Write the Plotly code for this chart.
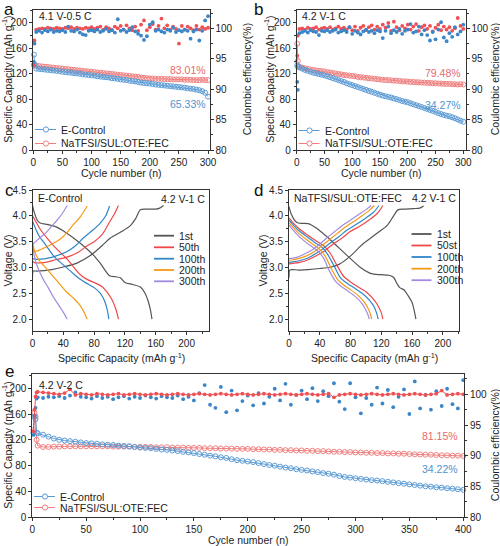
import plotly.graph_objects as go

# ---------------- data ----------------
CYC_AB = [1, 2] + list(range(5, 301, 5))
CYC_E = [1, 2, 3, 4, 5] + list(range(10, 401, 5))

A_CAP_CTRL = [150, 135, 128, 127.5, 127, 126.5, 126, 125.5, 125, 124.5, 124, 123,
              122.5, 122, 121.5, 121, 120.5, 120, 119, 118.5, 118, 117.5,
              117, 116, 115.5, 115, 114.5, 114, 113, 112.5, 112, 111,
              110.5, 110, 109, 108.5, 108, 107, 106, 105.5, 105, 104.5,
              104, 103, 102.5, 102, 101.5, 101, 100.5, 100, 99.5, 99,
              98.5, 98, 97, 96.5, 96, 95, 94, 92.5, 90, 84]
A_CAP_NA = [133.5, 133, 132.5, 132, 131.5, 131, 130.5, 130, 129.5, 129, 128.5, 128,
            127.5, 127, 126.5, 126, 125.5, 125, 124.5, 124, 123.5, 123,
            122.5, 122, 121.5, 121, 120.5, 120, 119.5, 119, 118.5, 118,
            117.5, 117, 116.5, 116, 115.5, 115, 114, 113.5, 113, 112.5,
            112.5, 112, 112, 112, 111.5, 111.5, 111.5, 111, 111, 111,
            111, 110.5, 110.5, 110.5, 110, 110, 110, 110.5, 110, 110]
A_CE_CTRL = [94.5, 97.5, 99.4, 99.6, 99.3, 99.7, 99.5, 99.8, 99.4, 99.6, 99.5, 99.7,
             99.4, 100.3, 99.6, 99.5, 99.8, 99.3, 99.0, 98.9, 99.6, 99.7,
             99.5, 99.8, 99.4, 99.6, 99.9, 99.5, 99.7, 99.3, 101.5, 99.6,
             99.8, 99.4, 99.7, 100.2, 99.5, 99.1, 98.8, 98.1, 98.7, 100.6,
             101.0, 99.6, 99.8, 99.5, 99.3, 99.8, 99.6, 100.1, 99.4, 99.7,
             99.5, 99.8, 99.6, 98.3, 99.5, 99.8, 98.0, 99.6, 101.3, 102.0]
A_CE_NA = [94.0, 98.0, 99.8, 99.9, 100.0, 99.9, 100.1, 100.0, 99.9, 100.1, 100.0, 99.9,
           100.1, 100.0, 100.2, 99.9, 100.1, 100.0, 99.9, 100.1, 100.0, 100.2,
           99.9, 100.1, 100.3, 99.8, 100.2, 100.0, 99.7, 100.3, 100.0, 100.4,
           99.8, 100.5, 100.0, 99.7, 100.3, 99.6, 100.6, 101.3, 99.7, 100.2,
           100.7, 99.8, 100.4, 101.6, 100.0, 100.5, 99.8, 100.3, 99.9, 97.5,
           100.4, 99.8, 100.3, 100.0, 99.7, 100.4, 99.8, 100.2, 99.9, 100.1]

B_CAP_CTRL = [133, 131, 130, 128, 126, 124.5, 123, 121.5, 120.5, 119.5, 118.5, 117.5,
              116, 114.5, 113, 111.5, 110, 108.5, 107, 105, 103.5, 102,
              100.5, 99, 97.5, 96, 94.5, 93, 91.5, 90, 88.5, 87,
              85.5, 84.5, 83.5, 82.5, 81, 80, 78.5, 77, 76, 75,
              73.5, 72, 70.5, 69, 67.5, 66, 64.5, 63, 61.5, 60,
              58, 56.5, 55, 54, 53, 51.5, 50, 48, 46, 44.5]
B_CAP_NA = [167, 140, 131, 129.5, 128.5, 127.5, 126.5, 126, 125, 124.5, 124, 123.5,
            122.5, 122, 121, 120.5, 119.5, 119, 118, 117.5, 117, 116.5,
            116, 115, 114.5, 114, 113.5, 113, 112.5, 112, 111.5, 111,
            110.5, 110, 110, 109.5, 109, 109, 108.5, 108, 108, 107.5,
            107, 107, 106.5, 106.5, 106, 106, 105.5, 105.5, 105, 105,
            104.5, 104.5, 104, 104, 104, 103.5, 103.5, 103, 103.5, 103]
B_CE_CTRL = [91.2, 89.9, 99.2, 99.4, 99.6, 99.3, 99.7, 99.5, 99.4, 98.9, 99.6, 99.5,
             99.7, 99.4, 99.6, 99.8, 99.3, 99.5, 99.7, 99.4, 100.2, 99.1,
             99.6, 99.3, 99.0, 99.5, 99.8, 99.4, 99.6, 99.2, 99.7, 99.5,
             98.4, 99.6, 100.3, 99.2, 99.7, 99.4, 99.9, 99.1, 99.6, 99.8,
             100.7, 99.3, 99.5, 100.3, 99.0, 99.7, 98.9, 98.0, 99.4, 98.2,
             99.8, 101.0, 98.5, 97.9, 99.2, 98.6, 100.2, 99.0, 99.5, 100.6]
B_CE_NA = [95.5, 98.8, 99.9, 100.0, 99.8, 100.1, 99.9, 100.0, 100.2, 99.8, 100.0, 100.1,
           99.9, 100.2, 99.8, 100.0, 100.3, 99.9, 100.1, 99.8, 100.2, 99.7,
           100.3, 99.6, 100.1, 100.4, 99.7, 100.2, 100.5, 99.8, 100.3, 99.9,
           100.6, 100.1, 100.9, 99.6, 101.1, 100.2, 99.7, 100.4, 100.0, 100.6,
           99.8, 100.3, 100.7, 99.6, 100.2, 100.5, 99.9, 100.4, 99.5, 100.1,
           100.6, 99.7, 100.3, 99.8, 100.2, 99.6, 100.0, 101.7, 100.4, 99.9]

E_CAP_CTRL = [131, 156, 152, 131, 130,
              128, 125, 122, 120, 119, 118, 117, 116, 115,
              114.5, 114, 113, 112.5, 112, 111, 110.5, 110, 109, 108,
              107.5, 107, 106, 105, 104.5, 103.5, 102.5, 101.5, 100.5, 99.5,
              98, 97, 95.5, 94.5, 93, 92, 90, 88.5, 87.5, 86.5,
              85.5, 84, 82.5, 81, 80, 78.5, 77, 76, 74.5, 73.5,
              72.5, 71, 70, 68.5, 67.5, 66, 64, 62.5, 61.5, 60.5,
              59.5, 58.5, 57.5, 57, 56, 55, 54, 53, 52, 51,
              50, 49, 48, 47.5, 46.5, 46, 45, 44.5, 43.5, 42.5]
E_CAP_NA = [135, 162, 156, 120, 111,
            109, 109, 109.5, 109.5, 110, 110, 110, 110, 110,
            110, 110, 110, 110, 109.5, 109.5, 109.5, 109.5, 109, 109,
            109, 109, 108.5, 108.5, 108.5, 108, 108, 108, 107.5, 107.5,
            107.5, 107, 107, 107, 106.5, 106.5, 106.5, 106, 106, 106,
            105.5, 105.5, 105, 105, 104.5, 104.5, 104, 104, 103.5, 103.5,
            103, 103, 102.5, 102.5, 102, 101.5, 101.5, 101, 101, 100.5,
            100.5, 100, 100, 99.5, 99.5, 99, 99, 98.5, 98.5, 98,
            97.5, 97.5, 97, 97, 96.5, 96, 96, 95.5, 95.5, 95]
E_CE_CTRL = [93.4, 96.5, 97.8, 99.3, 99.5,
             99.4, 99.6, 99.5, 99.7, 99.4, 99.8, 100.3, 99.6, 99.5,
             99.3, 99.7, 99.4, 99.6, 99.2, 99.5, 99.7, 99.3, 99.6, 99.4,
             99.8, 99.5, 99.3, 99.7, 99.5, 99.4, 99.8, 99.2, 99.6, 99.0,
             100.2, 101.5, 98.3, 97.8, 101.2, 97.1, 100.6, 97.4, 98.9, 99.8,
             98.2, 100.2, 98.5, 99.6, 100.9, 99.0, 101.7, 98.3, 99.9, 100.6,
             99.2, 101.0, 98.9, 100.5, 99.7, 101.8, 98.8, 97.6, 101.8, 99.5,
             96.9, 99.4, 98.3, 101.1, 98.5, 100.7, 97.9, 99.6, 100.8, 96.8,
             102.1, 97.7, 99.9, 97.5, 100.5, 98.1, 100.9, 98.4, 97.7, 102.3]
E_CE_NA = [94.0, 97.5, 99.6, 100.3, 100.4,
           100.3, 100.2, 100.1, 100.0, 100.2, 100.8, 99.9, 100.1, 100.0,
           99.9, 100.1, 100.0, 99.9, 100.0, 100.1, 99.9, 100.0, 100.1, 100.0,
           99.9, 100.0, 100.1, 100.0, 99.9, 100.0, 100.1, 100.0, 99.9, 100.0,
           100.1, 100.0, 99.9, 100.0, 100.1, 100.0, 99.9, 100.0, 100.1, 100.0,
           99.9, 100.0, 100.1, 100.0, 99.9, 100.0, 100.1, 100.0, 99.9, 100.0,
           100.1, 100.0, 99.9, 100.0, 100.1, 99.5, 99.9, 100.0, 100.1, 100.0,
           99.9, 100.0, 100.1, 100.0, 99.9, 100.0, 100.1, 100.0, 99.9, 100.0,
           100.1, 100.0, 99.9, 100.0, 100.1, 100.6, 99.9, 100.0, 100.1, 100.0]

# voltage profiles, panel c (E-Control)
C_LABELS = ["1st", "50th", "100th", "200th", "300th"]
C_DIS_Q = [
    [0, 2, 6, 10, 20, 30, 45, 62, 79, 88, 100, 108, 114, 120, 130, 140, 146, 150, 153, 155],
    [0, 5, 10, 20, 30, 45, 62, 72, 80, 90, 97, 103, 108, 111.5],
    [0, 4, 9, 18, 28, 40, 50, 62, 72, 80, 88, 93, 97, 99],
    [0, 3, 8, 15, 23, 33, 44, 55, 62, 67, 71],
    [0, 2, 5, 9, 14, 20, 27, 34, 40, 45],
]
C_DIS_V = [
    [4.20, 4.08, 3.92, 3.86, 3.83, 3.79, 3.66, 3.47, 3.24, 3.08, 2.84, 2.82, 2.80, 2.71, 2.67, 2.62, 2.50, 2.35, 2.18, 2.00],
    [4.00, 3.87, 3.74, 3.55, 3.38, 3.16, 2.86, 2.76, 2.71, 2.63, 2.52, 2.38, 2.20, 2.00],
    [3.90, 3.75, 3.60, 3.42, 3.21, 3.05, 2.92, 2.77, 2.68, 2.61, 2.50, 2.37, 2.18, 2.00],
    [3.50, 3.30, 3.15, 3.03, 2.89, 2.72, 2.53, 2.38, 2.26, 2.13, 2.00],
    [3.48, 3.25, 3.08, 2.92, 2.77, 2.62, 2.43, 2.27, 2.13, 2.00],
]
C_CHG_Q = [
    [0, 1, 5, 15, 25, 40, 57, 75, 90, 101, 115, 127, 134, 140, 150, 160, 165, 170],
    [0, 3, 10, 20, 30, 45, 60, 70, 80, 90, 100, 106, 111.5],
    [0, 3, 10, 20, 30, 45, 55, 66, 78, 88, 95, 100],
    [0, 3, 8, 14, 25, 36, 45, 53, 62, 71],
    [0, 4, 10, 18, 25, 31, 38, 45],
]
C_CHG_V = [
    [2.80, 2.93, 2.93, 2.94, 2.96, 3.01, 3.08, 3.23, 3.42, 3.57, 3.69, 3.81, 3.95, 4.12, 4.13, 4.13, 4.15, 4.20],
    [3.12, 3.09, 3.09, 3.11, 3.15, 3.20, 3.30, 3.41, 3.50, 3.63, 3.88, 4.03, 4.20],
    [3.18, 3.16, 3.16, 3.18, 3.22, 3.31, 3.41, 3.57, 3.72, 3.86, 4.00, 4.19],
    [3.30, 3.31, 3.33, 3.37, 3.45, 3.55, 3.68, 3.83, 3.98, 4.19],
    [3.45, 3.50, 3.58, 3.68, 3.80, 3.90, 4.03, 4.20],
]

# voltage profiles, panel d (NaTFSI/SUL:OTE:FEC)
D_LABELS = ["1st", "50st", "100th", "200th", "300th"]
D_DIS_Q = [
    [0, 3, 8, 12, 25, 35, 49, 62, 75, 92, 105, 110, 120, 130, 136, 140, 144, 150, 155, 160, 163, 165],
    [0, 5, 14, 25, 36, 45, 53, 62, 71, 80, 88, 100, 110, 116, 120, 122],
    [0, 5, 13, 24, 34, 43, 50, 59, 67, 76, 84, 95, 105, 111, 114, 116],
    [0, 5, 12, 22, 32, 40, 47, 55, 63, 71, 79, 89, 98, 103, 106, 107.5],
    [0, 5, 11, 20, 30, 38, 45, 52, 60, 68, 76, 86, 95, 100, 103, 104.5],
]
D_DIS_V = [
    [4.18, 4.03, 3.90, 3.86, 3.85, 3.77, 3.60, 3.42, 3.24, 3.01, 2.89, 2.87, 2.86, 2.85, 2.81, 2.70, 2.61, 2.56, 2.45, 2.32, 2.15, 2.00],
    [3.96, 3.87, 3.74, 3.62, 3.51, 3.42, 3.29, 3.05, 2.83, 2.72, 2.64, 2.53, 2.38, 2.25, 2.12, 2.00],
    [3.92, 3.83, 3.71, 3.59, 3.48, 3.39, 3.26, 3.02, 2.80, 2.69, 2.61, 2.50, 2.36, 2.23, 2.11, 2.00],
    [3.87, 3.78, 3.67, 3.55, 3.44, 3.35, 3.22, 2.98, 2.77, 2.66, 2.58, 2.47, 2.33, 2.20, 2.09, 2.00],
    [3.82, 3.73, 3.63, 3.51, 3.40, 3.31, 3.18, 2.95, 2.74, 2.63, 2.55, 2.44, 2.30, 2.17, 2.07, 2.00],
]
D_CHG_Q = [
    [0, 1, 5, 12, 25, 40, 55, 65, 79, 90, 97, 108, 118, 128, 136, 142, 150, 162, 170, 175],
    [0, 5, 14, 25, 36, 47, 58, 70, 79, 92, 105, 115, 122],
    [0, 5, 13, 24, 34, 44, 55, 66, 75, 87, 100, 110, 117],
    [0, 5, 12, 22, 32, 41, 52, 62, 71, 82, 95, 104, 111],
    [0, 5, 11, 20, 30, 39, 49, 59, 68, 79, 91, 100, 107],
]
D_CHG_V = [
    [2.80, 2.95, 2.96, 2.95, 2.96, 2.98, 3.01, 3.06, 3.21, 3.37, 3.47, 3.59, 3.70, 3.82, 4.00, 4.12, 4.13, 4.14, 4.15, 4.19],
    [3.07, 3.08, 3.10, 3.15, 3.23, 3.33, 3.46, 3.58, 3.69, 3.80, 3.93, 4.05, 4.20],
    [3.10, 3.11, 3.13, 3.18, 3.26, 3.36, 3.49, 3.61, 3.72, 3.83, 3.96, 4.07, 4.20],
    [3.14, 3.15, 3.17, 3.22, 3.30, 3.40, 3.53, 3.65, 3.76, 3.87, 4.00, 4.10, 4.20],
    [3.17, 3.18, 3.20, 3.26, 3.34, 3.44, 3.57, 3.69, 3.80, 3.91, 4.03, 4.12, 4.20],
]

SERIES = ["E-Control", "NaTFSI/SUL:OTE:FEC"]
RETENTION = {"a": ("83.01%", "65.33%"), "b": ("79.48%", "34.27%"), "e": ("81.15%", "34.22%")}
CONDITIONS = {"a": "4.1 V-0.5 C", "b": "4.2 V-1 C", "c": "4.2 V-1 C", "d": "4.2 V-1 C", "e": "4.2 V-2 C"}

# ---------------- style ----------------
W, H = 500, 546
FONT = "Liberation Sans, Arial, sans-serif"
BLUE_C = "#5b9bd5"
RED_C = "#f08080"
BLUE_D = "#3b86c8"
RED_D = "#ef5054"
RED_T = "#e8696b"
BLUE_T = "#4f93cf"
V_COLORS = ["#555555", "#f0484a", "#2f86c8", "#f59a16", "#a48be0"]
AX = "#333333"


def PX(x):
    return x / W


def PY(y):
    return 1 - y / H


def axis(**kw):
    d = dict(showline=True, linecolor=AX, linewidth=1, ticks="outside", ticklen=3,
             tickwidth=1, tickcolor=AX, tickfont=dict(size=10, color="#222", family=FONT),
             showgrid=False, zeroline=False, fixedrange=True, automargin=False)
    d.update(kw)
    return d


def minor(dt):
    return dict(ticks="outside", ticklen=2, tickcolor=AX, dtick=dt, showgrid=False)


fig = go.Figure()


def cap_trace(x, y, color, xa, ya):
    fig.add_trace(go.Scatter(x=x, y=y, mode="lines+markers", xaxis=xa, yaxis=ya,
                             line=dict(color=color, width=1),
                             marker=dict(symbol="circle-open", size=5, color=color,
                                         line=dict(width=1, color=color)),
                             cliponaxis=False, showlegend=False, hoverinfo="skip"))


def ce_trace(x, y, color, xa, ya, line=False):
    fig.add_trace(go.Scatter(x=x, y=y, mode="lines+markers" if line else "markers",
                             xaxis=xa, yaxis=ya,
                             line=dict(color=color, width=1),
                             marker=dict(symbol="circle", size=3.8, color=color),
                             cliponaxis=False, showlegend=False, hoverinfo="skip"))


# panel a
cap_trace(CYC_AB, A_CAP_NA, RED_C, "x", "y")
cap_trace(CYC_AB, A_CAP_CTRL, BLUE_C, "x", "y")
ce_trace(CYC_AB, A_CE_NA, RED_D, "x", "y2")
ce_trace(CYC_AB, A_CE_CTRL, BLUE_D, "x", "y2")
# panel b
cap_trace(CYC_AB, B_CAP_NA, RED_C, "x2", "y3")
cap_trace(CYC_AB, B_CAP_CTRL, BLUE_C, "x2", "y3")
ce_trace(CYC_AB, B_CE_NA, RED_D, "x2", "y4")
ce_trace(CYC_AB, B_CE_CTRL, BLUE_D, "x2", "y4")
# panel e
cap_trace(CYC_E, E_CAP_NA, RED_C, "x5", "y7")
cap_trace(CYC_E, E_CAP_CTRL, BLUE_C, "x5", "y7")
ce_trace(CYC_E, E_CE_CTRL, BLUE_D, "x5", "y8")
ce_trace(CYC_E, E_CE_NA, RED_D, "x5", "y8", line=True)

# panels c, d
for qs_d, vs_d, qs_c, vs_c, xa, ya in [(C_DIS_Q, C_DIS_V, C_CHG_Q, C_CHG_V, "x3", "y5"),
                                       (D_DIS_Q, D_DIS_V, D_CHG_Q, D_CHG_V, "x4", "y6")]:
    for i in range(5):
        for q, v in [(qs_d[i], vs_d[i]), (qs_c[i], vs_c[i])]:
            fig.add_trace(go.Scatter(x=q, y=v, mode="lines", xaxis=xa, yaxis=ya,
                                     line=dict(color=V_COLORS[i], width=1.2, shape="spline", smoothing=0.8),
                                     showlegend=False, hoverinfo="skip"))

# ---------------- axes ----------------
YA_TOP, YA_BOT = 9.5, 150
YC_TOP, YC_BOT = 190, 331
YE_TOP, YE_BOT = 374, 517.3

layout_axes = dict(
    xaxis=axis(domain=[PX(33.3), PX(209.5)], anchor="y", range=[0, 302.5], dtick=50, mirror=True, minor=minor(25)),
    yaxis=axis(domain=[PY(YA_BOT), PY(YA_TOP)], anchor="x", range=[0, 221], dtick=40, minor=minor(20)),
    yaxis2=axis(overlaying="y", side="right", anchor="x", range=[80, 103.1], dtick=5, minor=minor(2.5)),
    xaxis2=axis(domain=[PX(296.7), PX(465.5)], anchor="y3", range=[0, 304], dtick=50, mirror=True, minor=minor(25)),
    yaxis3=axis(domain=[PY(YA_BOT), PY(YA_TOP)], anchor="x2", range=[0, 221], dtick=40, minor=minor(20)),
    yaxis4=axis(overlaying="y3", side="right", anchor="x2", range=[80, 103.1], dtick=5, minor=minor(2.5)),
    xaxis3=axis(domain=[PX(32.5), PX(209)], anchor="y5", range=[0, 229], dtick=40, mirror=True, minor=minor(20)),
    yaxis5=axis(domain=[PY(YC_BOT), PY(YC_TOP)], anchor="x3", range=[1.77, 4.5], dtick=0.5, tickformat=".1f", mirror=True, minor=minor(0.25)),
    xaxis4=axis(domain=[PX(289), PX(459)], anchor="y6", range=[0, 221], dtick=40, mirror=True, minor=minor(20)),
    yaxis6=axis(domain=[PY(YC_BOT), PY(YC_TOP)], anchor="x4", range=[1.77, 4.5], dtick=0.5, tickformat=".1f", mirror=True, minor=minor(0.25)),
    xaxis5=axis(domain=[PX(32.3), PX(464)], anchor="y7", range=[0, 400.7], dtick=50, mirror=True, minor=minor(25)),
    yaxis7=axis(domain=[PY(YE_BOT), PY(YE_TOP)], anchor="x5", range=[0, 222], dtick=40, minor=minor(20)),
    yaxis8=axis(overlaying="y7", side="right", anchor="x5", range=[80, 103.3], dtick=5, minor=minor(2.5)),
)

# ---------------- annotations & shapes ----------------
anns = []
shapes = []


def ann(text, x, y, size=10.5, color="#222", xanchor="left", yanchor="middle", angle=0):
    anns.append(dict(text=text, x=PX(x), y=PY(y), xref="paper", yref="paper", showarrow=False,
                     font=dict(size=size, color=color, family=FONT), xanchor=xanchor,
                     yanchor=yanchor, textangle=angle))


CAP_T = "Specific Capacity (mAh g<sup>-1</sup>)"
CE_T = "Coulombic efficiency(%)"
CYC_T = "Cycle number (n)"

# panel letters
for L, x, y in [("a", 2, 9), ("b", 252, 9), ("c", 3, 190), ("d", 252, 190), ("e", 3, 371)]:
    ann(L, x, y, size=17, color="#111")

# axis titles
ann(CAP_T, 7, (YA_TOP + YA_BOT) / 2, xanchor="center", angle=-90)
ann(CE_T, 246.5, (YA_TOP + YA_BOT) / 2, xanchor="center", angle=-90)
ann(CYC_T, 121, 173, xanchor="center")
ann(CAP_T, 269, (YA_TOP + YA_BOT) / 2, xanchor="center", angle=-90)
ann(CE_T, 494.5, (YA_TOP + YA_BOT) / 2, xanchor="center", angle=-90)
ann(CYC_T, 381, 173, xanchor="center")
ann("Voltage (V)", 7, (YC_TOP + YC_BOT) / 2, xanchor="center", angle=-90)
ann(CAP_T, 121, 357, xanchor="center")
ann("Voltage (V)", 262, (YC_TOP + YC_BOT) / 2, xanchor="center", angle=-90)
ann(CAP_T, 374, 357, xanchor="center")
ann(CAP_T, 7, (YE_TOP + YE_BOT) / 2, xanchor="center", angle=-90)
ann(CE_T, 494.5, (YE_TOP + YE_BOT) / 2, xanchor="center", angle=-90)
ann(CYC_T, 248, 540, xanchor="center")

# conditions
ann(CONDITIONS["a"], 37, 16)
ann(CONDITIONS["b"], 300, 16)
ann("E-Control", 36, 198)
ann(CONDITIONS["c"], 206.5, 199, xanchor="right")
ann(SERIES[1], 292, 198)
ann(CONDITIONS["d"], 457.5, 198, xanchor="right")
ann(CONDITIONS["e"], 37, 385)

# retention labels
ann(RETENTION["a"][0], 207.5, 69.5, color=RED_T, xanchor="right")
ann(RETENTION["a"][1], 207.5, 104, color=BLUE_T, xanchor="right")
ann(RETENTION["b"][0], 463, 72.7, color=RED_T, xanchor="right")
ann(RETENTION["b"][1], 463, 105.5, color=BLUE_T, xanchor="right")
ann(RETENTION["e"][0], 460, 435.7, color=RED_T, xanchor="right")
ann(RETENTION["e"][1], 460, 469.3, color=BLUE_T, xanchor="right")


def line_shape(x0, x1, y, color, width=1):
    shapes.append(dict(type="line", xref="paper", yref="paper", x0=PX(x0), x1=PX(x1),
                       y0=PY(y), y1=PY(y), line=dict(color=color, width=width)))


def circ(cx, cy, color, r=2.6):
    shapes.append(dict(type="circle", xref="paper", yref="paper", x0=PX(cx - r), x1=PX(cx + r),
                       y0=PY(cy + r), y1=PY(cy - r), line=dict(color=color, width=1), fillcolor="white"))


# legends for cycling panels
for x0, ys in [(35, (129.5, 143.5)), (298.5, (130.5, 143.5)), (34, (496.5, 507.5))]:
    for name, color, y in zip(SERIES, (BLUE_C, RED_C), ys):
        line_shape(x0, x0 + 21, y, color)
        circ(x0 + 11, y, color)
        ann(name, x0 + 24, y)

# legends for voltage panels
for x0, ys, labels in [(154, (235.7, 247.3, 258.7, 270, 281.3), C_LABELS),
                       (411.5, (234, 245.5, 257, 268.7, 280.2), D_LABELS)]:
    for i, (lab, y) in enumerate(zip(labels, ys)):
        line_shape(x0, x0 + 20, y, V_COLORS[i], width=1.8)
        ann(lab, x0 + 23, y)

fig.update_layout(
    template="none",
    width=W, height=H, margin=dict(l=0, r=0, t=0, b=0, autoexpand=False),
    paper_bgcolor="white", plot_bgcolor="white",
    font=dict(family=FONT, size=10, color="#222"),
    showlegend=False, annotations=anns, shapes=shapes,
    **layout_axes,
)

fig.write_html("out.html",
               config={"displayModeBar": False, "staticPlot": True},
               post_script="document.body.style.margin='0';document.body.style.padding='0';"
                           "document.body.style.overflow='hidden';")
